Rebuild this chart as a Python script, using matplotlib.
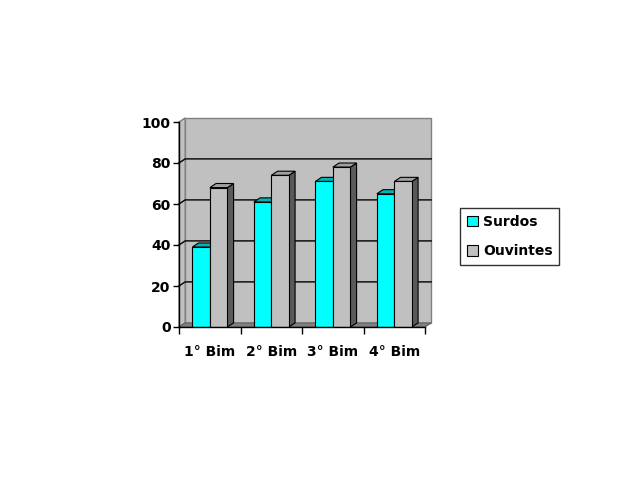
import matplotlib
matplotlib.use("Agg")
import matplotlib.pyplot as plt
from matplotlib.patches import Polygon, Rectangle

categories = ["1° Bim", "2° Bim", "3° Bim", "4° Bim"]
surdos = [39, 61, 71, 65]
ouvintes = [68, 74, 78, 71]
y_ticks = [0, 20, 40, 60, 80, 100]

# depth of the fake 3D effect, in data units
DX, DY = 0.1, 2.0
BAR_W = 0.285
YMAX = 100

plt.rcParams["font.family"] = "DejaVu Sans"
plt.rcParams["font.weight"] = "bold"

fig = plt.figure(figsize=(6.4, 4.8), dpi=100)
ax = fig.add_axes([179 / 640, (480 - 327) / 480, 246 / 640, 205 / 480])
ax.set_xlim(0, len(categories))
ax.set_ylim(0, YMAX)
ax.patch.set_visible(False)

n = len(categories)
# walls and floor
ax.add_patch(Polygon([(DX, DY), (n + DX, DY), (n + DX, YMAX + DY), (DX, YMAX + DY)],
                     closed=True, facecolor="#c0c0c0", edgecolor="#808080", lw=1,
                     clip_on=False, zorder=0))
ax.add_patch(Polygon([(0, 0), (DX, DY), (DX, YMAX + DY), (0, YMAX)],
                     closed=True, facecolor="#c0c0c0", edgecolor="#808080", lw=1,
                     clip_on=False, zorder=0))
ax.add_patch(Polygon([(0, 0), (n, 0), (n + DX, DY), (DX, DY)],
                     closed=True, facecolor="#808080", edgecolor="#606060", lw=0.8,
                     clip_on=False, zorder=0.5))
for v in y_ticks[1:-1]:
    ax.plot([0, DX, n + DX], [v, v + DY, v + DY], color="black", lw=1,
            clip_on=False, zorder=0.6)


def bar3d(x0, h, top, side, z):
    x1 = x0 + BAR_W
    ax.add_patch(Polygon([(x1, 0), (x1 + DX, DY), (x1 + DX, h + DY), (x1, h)],
                         closed=True, facecolor=side, edgecolor="black", lw=0.8,
                         clip_on=False, zorder=z))
    ax.add_patch(Polygon([(x0, h), (x1, h), (x1 + DX, h + DY), (x0 + DX, h + DY)],
                         closed=True, facecolor=top, edgecolor="black", lw=0.8,
                         clip_on=False, zorder=z))


for i in range(n):
    xs = i + 0.5 - 0.14 - BAR_W / 2
    xo = xs + BAR_W
    bar3d(xs, surdos[i], "#00b4b4", "#008080", 1)
    ax.bar(xs, surdos[i], width=BAR_W, align="edge", color="#00ffff",
           edgecolor="black", lw=0.8, zorder=1.5)
    bar3d(xo, ouvintes[i], "#a0a0a0", "#5a5a5a", 2)
    ax.bar(xo, ouvintes[i], width=BAR_W, align="edge", color="#c0c0c0",
           edgecolor="black", lw=0.8, zorder=2.5)

for s in ["top", "right"]:
    ax.spines[s].set_visible(False)
for s in ["left", "bottom"]:
    ax.spines[s].set_color("black")
    ax.spines[s].set_linewidth(1)
    ax.spines[s].set_zorder(3)

ax.set_yticks(y_ticks)
ax.set_yticklabels([str(v) for v in y_ticks], fontsize=10, fontweight="bold")
ax.set_xticks(range(n + 1))
ax.set_xticklabels([])
ax.set_xticks([i + 0.5 for i in range(n)], minor=True)
ax.set_xticklabels(categories, minor=True, fontsize=10, fontweight="bold")
ax.tick_params(axis="y", direction="out", length=4, width=1, pad=2)
ax.tick_params(axis="x", which="major", direction="out", length=5, width=1)
ax.tick_params(axis="x", which="minor", length=0, pad=13)

handles = [Rectangle((0, 0), 1, 1, facecolor="#00ffff", edgecolor="black", lw=0.8),
           Rectangle((0, 0), 1, 1, facecolor="#c0c0c0", edgecolor="black", lw=0.8)]
leg = fig.legend(handles, ["Surdos", "Ouvintes"], loc="center left",
                 bbox_to_anchor=(460 / 640, (480 - 236.5) / 480),
                 prop={"size": 10, "weight": "bold"}, fancybox=False,
                 frameon=True, handlelength=0.8, handleheight=0.8,
                 handletextpad=0.35, labelspacing=1.1, borderpad=0.5,
                 borderaxespad=0)
leg.get_frame().set_edgecolor("black")
leg.get_frame().set_linewidth(1)

fig.savefig("out.png", dpi=100, facecolor="white")
